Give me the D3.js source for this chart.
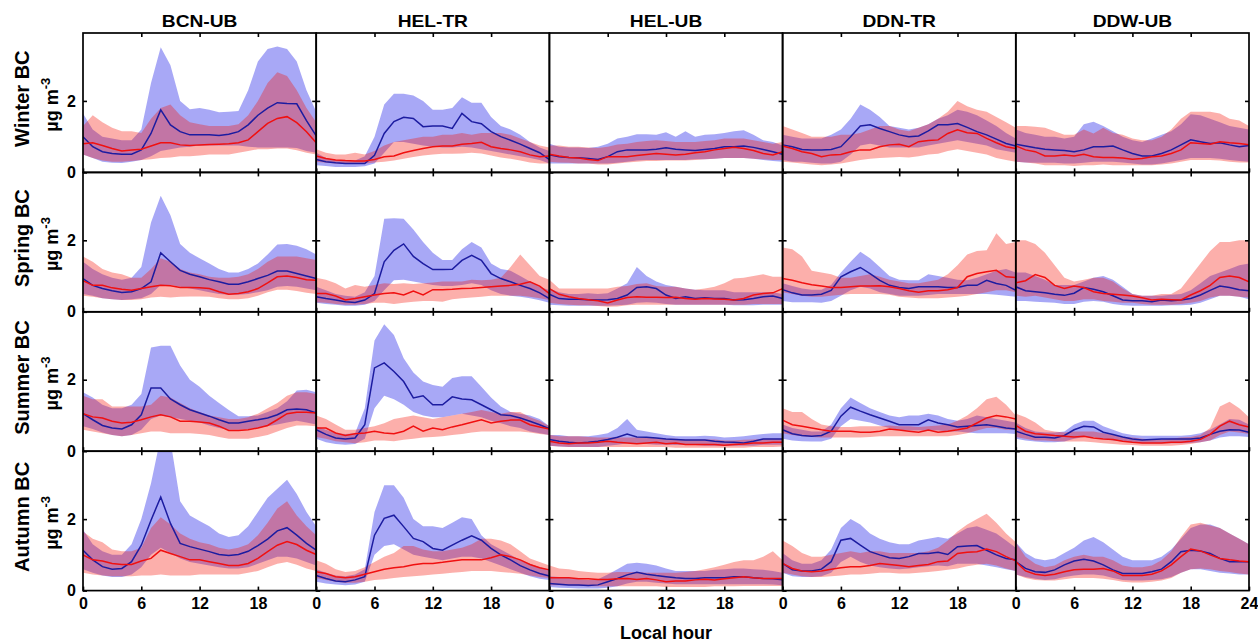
<!DOCTYPE html>
<html>
<head>
<meta charset="utf-8" />
<title>BC diurnal cycles</title>
<style>
  body { margin: 0; background: #fff; }
  svg text { font-family: Arial, "Liberation Sans", sans-serif; font-weight: bold; fill: #000; }
</style>
</head>
<body>
<script src="https://cdn.jsdelivr.net/npm/d3@7"></script>
<script>
// categories
var sites = ["BCN-UB", "HEL-TR", "HEL-UB", "DDN-TR", "DDW-UB"];
var seasons = ["Winter", "Spring", "Summer", "Autumn"];
var hours = d3.range(0, 25);
var xTickLabels = [0, 6, 12, 18];
var yTickLabels = [0, 2];

// all arrays below are [season][site][hour 0..24], ug m-3
// blue series: mean, lower and upper band
var blueMean = [
  [[1.0,0.72,0.58,0.53,0.51,0.51,0.63,1.09,1.75,1.33,1.14,1.05,1.05,1.05,1.03,1.07,1.14,1.33,1.6,1.8,1.95,1.93,1.92,1.45,1.02],
   [0.36,0.3,0.27,0.25,0.25,0.25,0.48,1.09,1.42,1.54,1.51,1.28,1.3,1.3,1.23,1.65,1.42,1.36,1.14,1.0,0.9,0.79,0.67,0.55,0.36],
   [0.49,0.44,0.42,0.41,0.39,0.36,0.44,0.58,0.63,0.63,0.63,0.65,0.69,0.65,0.63,0.61,0.64,0.67,0.72,0.72,0.74,0.7,0.64,0.58,0.51],
   [0.77,0.72,0.64,0.63,0.63,0.64,0.72,1.0,1.3,1.33,1.23,1.14,1.05,1.0,1.02,1.16,1.33,1.33,1.37,1.26,1.14,1.05,0.93,0.81,0.74],
   [0.79,0.74,0.69,0.65,0.63,0.61,0.58,0.63,0.72,0.72,0.74,0.63,0.53,0.46,0.46,0.53,0.63,0.77,0.91,0.86,0.81,0.83,0.77,0.72,0.75]],
  [[0.93,0.74,0.65,0.59,0.54,0.56,0.65,0.84,1.65,1.4,1.16,1.05,0.98,0.9,0.84,0.77,0.77,0.84,0.93,1.02,1.14,1.14,1.07,1.0,0.93],
   [0.42,0.37,0.33,0.28,0.26,0.33,0.51,1.4,1.72,1.9,1.55,1.35,1.18,1.18,1.19,1.44,1.58,1.44,1.07,0.93,0.84,0.74,0.65,0.53,0.37],
   [0.49,0.37,0.35,0.35,0.34,0.33,0.34,0.37,0.47,0.68,0.7,0.65,0.47,0.37,0.42,0.37,0.39,0.37,0.37,0.33,0.34,0.37,0.42,0.44,0.37],
   [0.62,0.53,0.47,0.47,0.49,0.6,0.98,1.12,1.24,1.07,0.88,0.74,0.68,0.65,0.7,0.7,0.7,0.68,0.68,0.74,0.74,0.88,0.79,0.74,0.6],
   [0.7,0.59,0.56,0.53,0.49,0.46,0.52,0.68,0.63,0.56,0.45,0.33,0.31,0.31,0.28,0.33,0.31,0.33,0.37,0.47,0.6,0.72,0.68,0.62,0.59]],
  [[1.05,0.88,0.72,0.65,0.62,0.74,1.02,1.77,1.77,1.46,1.3,1.16,1.07,0.98,0.88,0.79,0.79,0.84,0.88,0.93,1.02,1.16,1.18,1.16,1.07],
   [0.6,0.47,0.37,0.34,0.37,0.74,2.33,2.47,2.23,1.95,1.49,1.55,1.3,1.3,1.52,1.46,1.44,1.3,1.16,1.02,1.0,0.93,0.84,0.74,0.63],
   [0.33,0.28,0.25,0.23,0.25,0.28,0.33,0.39,0.48,0.4,0.39,0.37,0.34,0.33,0.31,0.31,0.31,0.28,0.26,0.25,0.23,0.28,0.34,0.34,0.34],
   [0.6,0.49,0.44,0.42,0.44,0.56,0.98,1.23,1.12,1.02,0.93,0.84,0.74,0.74,0.74,0.88,0.79,0.74,0.68,0.7,0.72,0.74,0.7,0.65,0.62],
   [0.56,0.47,0.39,0.39,0.37,0.44,0.6,0.7,0.68,0.53,0.47,0.4,0.34,0.31,0.33,0.34,0.34,0.34,0.34,0.37,0.47,0.56,0.6,0.59,0.53]],
  [[1.13,0.86,0.67,0.6,0.62,0.81,1.27,1.97,2.62,1.88,1.32,1.23,1.16,1.09,1.01,0.98,1.01,1.1,1.26,1.44,1.67,1.76,1.55,1.32,1.13],
   [0.42,0.34,0.27,0.25,0.3,0.39,1.55,2.02,2.11,1.79,1.46,1.37,1.18,1.13,1.27,1.41,1.53,1.41,1.18,1.0,0.86,0.7,0.58,0.48,0.41],
   [0.2,0.18,0.16,0.16,0.14,0.16,0.25,0.34,0.44,0.51,0.46,0.42,0.39,0.36,0.34,0.34,0.36,0.36,0.36,0.39,0.39,0.36,0.34,0.33,0.3],
   [0.76,0.58,0.55,0.55,0.6,0.81,1.41,1.46,1.27,1.09,1.0,0.92,0.9,0.95,1.04,1.04,1.07,1.01,1.23,1.25,1.26,1.13,1.0,0.9,0.86],
   [0.81,0.62,0.53,0.51,0.58,0.72,0.83,0.88,0.83,0.72,0.58,0.48,0.48,0.48,0.53,0.6,0.81,1.09,1.13,1.11,1.04,0.9,0.81,0.81,0.81]]
];
var blueLow = [
  [[0.5,0.4,0.3,0.27,0.26,0.3,0.35,0.45,0.6,0.65,0.7,0.72,0.75,0.75,0.75,0.75,0.75,0.72,0.7,0.7,0.7,0.7,0.68,0.6,0.55],
   [0.2,0.18,0.15,0.15,0.15,0.17,0.25,0.55,0.85,0.85,0.8,0.75,0.72,0.7,0.7,0.72,0.7,0.65,0.6,0.55,0.5,0.45,0.4,0.35,0.25],
   [0.25,0.25,0.25,0.25,0.25,0.25,0.25,0.27,0.3,0.33,0.35,0.35,0.35,0.35,0.35,0.37,0.37,0.38,0.4,0.4,0.4,0.38,0.35,0.32,0.3],
   [0.35,0.3,0.3,0.27,0.25,0.25,0.3,0.5,0.75,0.8,0.75,0.7,0.7,0.7,0.7,0.75,0.8,0.85,0.9,0.85,0.8,0.75,0.65,0.6,0.55],
   [0.3,0.28,0.27,0.27,0.27,0.25,0.25,0.27,0.3,0.3,0.3,0.28,0.25,0.22,0.22,0.25,0.3,0.35,0.4,0.4,0.4,0.38,0.35,0.32,0.3]],
  [[0.5,0.45,0.38,0.35,0.33,0.35,0.38,0.5,0.75,0.75,0.7,0.65,0.6,0.55,0.5,0.48,0.48,0.5,0.55,0.6,0.7,0.72,0.7,0.65,0.6],
   [0.25,0.22,0.2,0.17,0.17,0.2,0.3,0.6,0.88,0.9,0.85,0.8,0.75,0.72,0.72,0.75,0.8,0.75,0.6,0.5,0.45,0.42,0.38,0.32,0.25],
   [0.2,0.18,0.17,0.17,0.17,0.17,0.17,0.18,0.2,0.25,0.27,0.25,0.22,0.2,0.2,0.2,0.2,0.2,0.2,0.18,0.18,0.18,0.2,0.2,0.2],
   [0.3,0.27,0.27,0.27,0.25,0.3,0.45,0.6,0.7,0.65,0.55,0.5,0.45,0.45,0.45,0.47,0.5,0.5,0.5,0.5,0.5,0.5,0.48,0.45,0.42],
   [0.3,0.3,0.28,0.27,0.25,0.22,0.22,0.28,0.3,0.28,0.22,0.18,0.17,0.17,0.17,0.17,0.18,0.18,0.2,0.25,0.35,0.45,0.45,0.42,0.35]],
  [[0.7,0.62,0.52,0.45,0.42,0.45,0.6,0.9,1.0,0.95,0.9,0.85,0.8,0.72,0.65,0.6,0.6,0.62,0.65,0.7,0.75,0.8,0.85,0.8,0.75],
   [0.35,0.25,0.2,0.18,0.2,0.35,1.2,1.55,1.45,1.3,1.1,1.0,0.95,0.95,1.0,1.05,1.0,0.95,0.85,0.78,0.7,0.65,0.55,0.5,0.45],
   [0.15,0.13,0.12,0.12,0.12,0.12,0.15,0.18,0.22,0.22,0.2,0.18,0.18,0.17,0.17,0.17,0.15,0.15,0.15,0.15,0.15,0.15,0.18,0.18,0.18],
   [0.35,0.3,0.28,0.27,0.27,0.35,0.7,0.9,0.85,0.8,0.72,0.65,0.6,0.58,0.58,0.58,0.58,0.55,0.55,0.52,0.5,0.5,0.5,0.5,0.48],
   [0.35,0.3,0.27,0.25,0.25,0.27,0.35,0.4,0.4,0.35,0.3,0.27,0.25,0.22,0.22,0.22,0.22,0.22,0.23,0.25,0.3,0.38,0.42,0.42,0.4]],
  [[0.6,0.5,0.42,0.38,0.38,0.45,0.65,1.0,1.2,1.05,0.9,0.8,0.75,0.7,0.65,0.62,0.62,0.65,0.75,0.85,0.95,0.95,0.9,0.8,0.7],
   [0.25,0.2,0.17,0.15,0.17,0.25,1.0,1.25,1.3,1.15,1.0,0.95,0.9,0.85,0.9,0.95,0.95,0.9,0.8,0.7,0.6,0.5,0.4,0.33,0.3],
   [0.1,0.08,0.07,0.06,0.06,0.06,0.08,0.12,0.2,0.25,0.25,0.22,0.2,0.18,0.18,0.18,0.18,0.18,0.18,0.18,0.18,0.18,0.18,0.17,0.15],
   [0.5,0.4,0.38,0.38,0.4,0.5,0.8,0.95,0.8,0.7,0.65,0.62,0.6,0.62,0.65,0.68,0.7,0.68,0.75,0.75,0.75,0.7,0.65,0.6,0.55],
   [0.45,0.38,0.33,0.3,0.32,0.38,0.42,0.45,0.45,0.42,0.35,0.3,0.28,0.28,0.3,0.32,0.38,0.5,0.6,0.6,0.55,0.5,0.48,0.45,0.45]]
];
var blueHigh = [
  [[1.65,1.2,1.0,0.95,0.9,0.9,1.2,2.5,3.5,3.0,2.0,1.77,1.8,1.75,1.68,1.7,1.72,2.3,3.1,3.45,3.52,3.45,3.1,2.3,1.7],
   [0.55,0.4,0.35,0.33,0.33,0.45,1.0,1.9,2.2,2.2,2.15,2.0,1.75,1.75,1.8,2.1,1.95,1.95,1.55,1.3,1.2,1.05,0.85,0.7,0.6],
   [0.8,0.72,0.7,0.7,0.68,0.72,0.8,0.95,1.0,1.07,1.07,1.05,1.12,1.0,1.15,1.0,1.05,1.07,1.1,1.15,1.18,1.05,0.9,0.85,0.75],
   [1.05,1.0,0.95,0.95,0.95,1.05,1.2,1.5,1.9,1.75,1.55,1.3,1.25,1.2,1.25,1.35,1.5,1.6,1.75,1.7,1.6,1.45,1.3,1.1,0.95],
   [1.2,1.1,1.05,1.0,1.0,0.95,1.0,1.35,1.42,1.3,1.15,1.0,0.9,0.85,0.95,1.05,1.15,1.35,1.63,1.6,1.5,1.4,1.3,1.25,1.2]],
  [[1.4,1.2,1.05,0.95,0.9,0.95,1.25,2.5,3.25,2.7,1.9,1.65,1.5,1.35,1.2,1.1,1.1,1.2,1.35,1.6,1.88,1.9,1.85,1.75,1.6],
   [0.7,0.6,0.5,0.45,0.42,0.55,1.0,2.6,2.62,2.6,2.3,1.95,1.65,1.45,1.45,1.75,1.95,1.8,1.35,1.2,1.15,1.0,0.85,0.7,0.6],
   [0.65,0.55,0.5,0.5,0.52,0.5,0.52,0.65,0.8,1.25,1.0,0.85,0.75,0.7,0.65,0.62,0.6,0.6,0.6,0.55,0.55,0.55,0.55,0.55,0.5],
   [0.8,0.72,0.65,0.62,0.62,0.75,1.1,1.4,1.68,1.5,1.25,1.0,0.9,0.88,0.88,1.05,1.0,0.95,0.9,0.88,0.95,1.05,1.15,1.2,1.1],
   [1.1,1.1,1.0,0.9,0.75,0.75,0.75,0.85,0.95,1.0,0.9,0.7,0.5,0.45,0.45,0.45,0.48,0.5,0.6,0.8,1.0,1.1,1.2,1.3,1.35]],
  [[1.65,1.5,1.3,1.2,1.2,1.3,1.6,2.9,2.95,2.95,2.4,2.0,1.8,1.55,1.35,1.15,0.98,0.98,1.0,1.1,1.2,1.4,1.7,1.72,1.65],
   [0.7,0.6,0.5,0.48,0.5,1.2,3.1,3.55,3.25,2.6,2.2,1.95,1.85,1.8,2.05,2.1,2.1,1.8,1.5,1.25,1.1,1.05,1.0,0.9,0.7],
   [0.45,0.45,0.42,0.42,0.42,0.45,0.5,0.65,0.9,0.6,0.55,0.5,0.45,0.42,0.42,0.42,0.43,0.42,0.38,0.4,0.42,0.45,0.48,0.5,0.5],
   [0.75,0.65,0.6,0.55,0.55,0.75,1.2,1.5,1.35,1.2,1.1,1.0,0.95,1.0,1.0,1.05,1.0,0.9,0.85,0.9,1.0,0.95,0.9,0.85,0.8],
   [0.8,0.65,0.55,0.52,0.52,0.55,0.75,0.85,0.85,0.7,0.6,0.5,0.45,0.43,0.43,0.43,0.43,0.43,0.45,0.5,0.6,0.75,0.9,0.88,0.75]],
  [[1.7,1.3,1.1,1.0,1.0,1.3,2.0,3.0,4.3,4.2,2.5,2.1,1.95,1.8,1.6,1.5,1.55,1.8,2.2,2.6,2.85,3.1,2.7,2.2,1.8],
   [0.6,0.5,0.42,0.4,0.45,0.6,2.2,2.95,2.95,2.6,2.0,1.8,1.8,1.75,1.9,2.05,2.0,1.55,1.3,1.15,1.0,0.85,0.75,0.65,0.58],
   [0.4,0.38,0.35,0.32,0.3,0.32,0.45,0.6,0.75,0.78,0.75,0.7,0.62,0.55,0.55,0.55,0.55,0.58,0.6,0.62,0.62,0.6,0.58,0.55,0.5],
   [1.05,0.85,0.75,0.75,0.85,1.15,1.75,2.0,1.85,1.6,1.45,1.35,1.3,1.3,1.4,1.45,1.5,1.45,1.6,1.75,1.8,1.7,1.6,1.4,1.2],
   [1.35,1.05,0.9,0.85,0.9,1.05,1.2,1.4,1.5,1.35,1.15,0.95,0.85,0.85,0.85,0.95,1.15,1.45,1.75,1.85,1.85,1.75,1.6,1.45,1.3]]
];

// red series: mean, lower and upper band
var redMean = [
  [[0.8,0.83,0.75,0.67,0.6,0.63,0.65,0.74,0.83,0.83,0.77,0.75,0.77,0.78,0.79,0.8,0.83,0.91,1.14,1.37,1.51,1.56,1.39,1.14,0.83],
   [0.46,0.39,0.35,0.33,0.32,0.32,0.36,0.44,0.46,0.55,0.61,0.67,0.72,0.74,0.74,0.79,0.81,0.84,0.72,0.67,0.63,0.58,0.49,0.44,0.46],
   [0.51,0.46,0.42,0.4,0.36,0.33,0.44,0.44,0.44,0.47,0.5,0.53,0.51,0.49,0.51,0.55,0.58,0.63,0.67,0.7,0.67,0.61,0.53,0.49,0.58],
   [0.74,0.67,0.58,0.53,0.44,0.49,0.5,0.58,0.63,0.63,0.72,0.77,0.79,0.72,0.86,0.89,0.91,1.09,1.19,1.11,1.09,0.95,0.83,0.72,0.67],
   [0.74,0.63,0.58,0.46,0.46,0.49,0.46,0.51,0.44,0.42,0.42,0.4,0.37,0.39,0.44,0.46,0.53,0.63,0.83,0.81,0.79,0.86,0.83,0.81,0.77]],
  [[0.87,0.74,0.74,0.67,0.63,0.6,0.65,0.7,0.74,0.73,0.68,0.68,0.67,0.65,0.56,0.49,0.51,0.56,0.65,0.81,0.98,1.0,0.96,0.9,0.88],
   [0.51,0.51,0.44,0.33,0.37,0.42,0.47,0.51,0.53,0.47,0.58,0.47,0.62,0.62,0.63,0.65,0.66,0.68,0.7,0.72,0.74,0.77,0.84,0.72,0.51],
   [0.65,0.49,0.42,0.37,0.34,0.31,0.25,0.33,0.4,0.42,0.41,0.41,0.4,0.41,0.37,0.35,0.37,0.36,0.35,0.33,0.37,0.47,0.51,0.53,0.65],
   [0.93,0.88,0.81,0.76,0.72,0.68,0.68,0.7,0.72,0.72,0.73,0.7,0.65,0.59,0.55,0.59,0.59,0.62,0.68,0.98,1.07,1.12,1.16,0.98,0.96],
   [0.81,0.87,1.04,0.96,0.74,0.65,0.72,0.68,0.56,0.51,0.49,0.47,0.44,0.39,0.33,0.35,0.34,0.33,0.47,0.59,0.74,0.96,1.0,0.96,0.84]],
  [[1.05,0.96,0.93,0.84,0.79,0.81,0.88,0.96,1.02,0.96,0.84,0.84,0.82,0.79,0.7,0.58,0.58,0.6,0.65,0.72,0.88,1.05,1.09,1.09,1.07],
   [0.65,0.65,0.51,0.44,0.49,0.51,0.56,0.51,0.49,0.56,0.7,0.56,0.65,0.6,0.68,0.74,0.81,0.88,0.79,0.84,0.87,0.87,0.74,0.68,0.62],
   [0.28,0.23,0.21,0.23,0.23,0.25,0.28,0.25,0.23,0.21,0.23,0.25,0.21,0.23,0.19,0.19,0.19,0.19,0.17,0.19,0.2,0.23,0.23,0.25,0.25],
   [0.87,0.74,0.7,0.65,0.6,0.56,0.56,0.56,0.53,0.53,0.56,0.62,0.59,0.56,0.53,0.59,0.53,0.56,0.6,0.65,0.79,0.93,1.0,0.96,0.9],
   [0.72,0.56,0.49,0.47,0.44,0.42,0.4,0.42,0.37,0.34,0.33,0.28,0.25,0.23,0.23,0.23,0.25,0.25,0.28,0.33,0.47,0.7,0.84,0.74,0.68]],
  [[1.0,0.86,0.83,0.76,0.73,0.73,0.83,0.9,1.13,1.04,0.95,0.86,0.86,0.81,0.76,0.7,0.7,0.76,0.9,1.09,1.27,1.37,1.29,1.13,1.01],
   [0.53,0.48,0.39,0.36,0.39,0.46,0.53,0.6,0.64,0.67,0.72,0.76,0.76,0.79,0.83,0.86,0.86,0.86,0.92,1.0,0.95,0.86,0.73,0.64,0.58],
   [0.36,0.36,0.36,0.33,0.33,0.31,0.31,0.33,0.34,0.31,0.34,0.3,0.25,0.27,0.27,0.3,0.32,0.3,0.33,0.36,0.39,0.36,0.34,0.34,0.34],
   [0.76,0.62,0.55,0.53,0.55,0.6,0.64,0.67,0.67,0.7,0.76,0.73,0.7,0.67,0.7,0.73,0.81,0.83,1.04,1.07,1.09,1.16,1.09,0.95,0.83],
   [0.81,0.55,0.46,0.42,0.46,0.53,0.58,0.6,0.6,0.62,0.55,0.42,0.42,0.42,0.46,0.55,0.72,0.95,1.16,1.11,1.0,0.9,0.86,0.83,0.81]]
];
var redLow = [
  [[0.5,0.4,0.33,0.3,0.3,0.32,0.35,0.37,0.4,0.42,0.45,0.45,0.47,0.5,0.5,0.5,0.55,0.6,0.65,0.65,0.67,0.67,0.62,0.55,0.5],
   [0.3,0.27,0.25,0.24,0.24,0.25,0.28,0.3,0.33,0.38,0.43,0.47,0.5,0.52,0.52,0.53,0.55,0.53,0.47,0.42,0.38,0.33,0.28,0.25,0.25],
   [0.3,0.28,0.27,0.25,0.25,0.22,0.22,0.25,0.28,0.3,0.32,0.32,0.33,0.33,0.33,0.35,0.37,0.38,0.4,0.4,0.4,0.38,0.37,0.35,0.35],
   [0.3,0.28,0.25,0.22,0.2,0.22,0.25,0.3,0.35,0.38,0.4,0.42,0.43,0.42,0.45,0.5,0.52,0.6,0.65,0.6,0.55,0.5,0.4,0.35,0.3],
   [0.3,0.28,0.25,0.2,0.2,0.2,0.18,0.2,0.2,0.22,0.2,0.2,0.2,0.2,0.2,0.22,0.25,0.3,0.35,0.35,0.35,0.33,0.3,0.28,0.28]],
  [[0.45,0.42,0.38,0.35,0.33,0.33,0.35,0.4,0.42,0.4,0.42,0.43,0.43,0.42,0.38,0.35,0.35,0.38,0.45,0.55,0.62,0.62,0.58,0.53,0.5],
   [0.27,0.25,0.22,0.2,0.2,0.22,0.25,0.25,0.22,0.25,0.28,0.3,0.3,0.28,0.35,0.38,0.4,0.42,0.45,0.45,0.45,0.45,0.42,0.38,0.33],
   [0.25,0.22,0.2,0.18,0.18,0.16,0.14,0.15,0.18,0.2,0.2,0.2,0.2,0.2,0.2,0.2,0.2,0.2,0.2,0.2,0.2,0.22,0.22,0.22,0.22],
   [0.55,0.5,0.45,0.42,0.42,0.45,0.48,0.5,0.5,0.5,0.5,0.48,0.42,0.4,0.38,0.38,0.38,0.4,0.42,0.45,0.5,0.55,0.6,0.6,0.55],
   [0.45,0.42,0.45,0.4,0.35,0.3,0.3,0.35,0.35,0.3,0.28,0.25,0.25,0.22,0.2,0.2,0.2,0.22,0.25,0.3,0.4,0.45,0.45,0.42,0.4]],
  [[0.6,0.55,0.5,0.45,0.42,0.45,0.5,0.55,0.55,0.5,0.5,0.5,0.48,0.45,0.4,0.35,0.35,0.35,0.4,0.45,0.55,0.65,0.72,0.72,0.7],
   [0.4,0.35,0.28,0.25,0.22,0.25,0.3,0.3,0.28,0.32,0.35,0.38,0.4,0.42,0.45,0.48,0.52,0.55,0.55,0.55,0.55,0.55,0.52,0.48,0.45],
   [0.15,0.13,0.12,0.12,0.12,0.12,0.12,0.12,0.12,0.12,0.12,0.12,0.12,0.1,0.1,0.1,0.1,0.1,0.1,0.1,0.1,0.12,0.12,0.12,0.13],
   [0.5,0.45,0.42,0.4,0.38,0.38,0.38,0.38,0.38,0.4,0.42,0.42,0.42,0.42,0.42,0.42,0.42,0.42,0.45,0.5,0.58,0.65,0.65,0.6,0.6],
   [0.4,0.35,0.3,0.3,0.28,0.27,0.27,0.27,0.25,0.22,0.2,0.18,0.17,0.15,0.15,0.15,0.15,0.17,0.2,0.25,0.3,0.45,0.55,0.52,0.48]],
  [[0.5,0.45,0.42,0.4,0.4,0.4,0.42,0.42,0.45,0.42,0.42,0.42,0.45,0.45,0.45,0.45,0.45,0.5,0.55,0.65,0.75,0.8,0.72,0.62,0.55],
   [0.35,0.3,0.25,0.22,0.22,0.25,0.3,0.32,0.35,0.38,0.4,0.42,0.45,0.47,0.5,0.52,0.55,0.55,0.55,0.52,0.5,0.47,0.42,0.38,0.35],
   [0.15,0.15,0.15,0.13,0.12,0.12,0.12,0.12,0.12,0.12,0.12,0.12,0.1,0.1,0.1,0.1,0.1,0.12,0.12,0.12,0.13,0.13,0.13,0.13,0.13],
   [0.5,0.45,0.4,0.38,0.38,0.4,0.42,0.45,0.45,0.47,0.5,0.5,0.48,0.48,0.5,0.52,0.55,0.58,0.62,0.68,0.72,0.75,0.7,0.62,0.55],
   [0.45,0.35,0.3,0.28,0.28,0.32,0.35,0.35,0.35,0.33,0.3,0.25,0.23,0.23,0.25,0.28,0.35,0.5,0.6,0.62,0.6,0.55,0.52,0.48,0.45]]
];
var redHigh = [
  [[1.3,1.6,1.4,1.25,1.15,1.15,1.1,1.5,1.8,1.9,1.6,1.4,1.35,1.3,1.3,1.3,1.35,1.6,2.0,2.5,2.8,2.7,2.3,1.8,1.4],
   [0.65,0.55,0.5,0.5,0.55,0.5,0.6,0.75,0.85,0.9,0.95,1.0,1.0,1.05,1.05,1.1,1.05,1.1,1.1,1.1,1.05,0.95,0.85,0.75,0.7],
   [0.75,0.75,0.72,0.72,0.7,0.68,0.72,0.78,0.8,0.85,0.88,0.9,0.88,0.85,0.85,0.85,0.88,0.9,0.95,0.95,0.95,0.9,0.85,0.8,0.85],
   [1.3,1.2,1.1,1.0,1.0,1.0,1.05,1.05,1.1,1.2,1.3,1.3,1.2,1.15,1.25,1.35,1.5,1.7,2.0,1.85,1.75,1.7,1.55,1.4,1.25],
   [1.3,1.3,1.28,1.25,1.15,1.05,1.05,1.2,1.09,1.25,1.1,1.05,0.95,0.9,0.9,1.0,1.2,1.5,1.7,1.7,1.7,1.65,1.5,1.45,1.3]],
  [[1.55,1.4,1.2,1.1,1.05,0.95,0.95,1.2,1.5,1.4,1.2,1.1,1.05,0.98,0.95,0.95,0.98,1.05,1.2,1.4,1.55,1.55,1.55,1.5,1.45],
   [0.95,0.9,0.8,0.65,0.75,0.7,0.75,0.8,0.78,0.8,0.78,0.8,0.82,0.85,0.85,0.85,0.9,0.88,0.9,0.95,1.25,1.6,1.3,1.0,0.9],
   [0.9,0.65,0.65,0.65,0.65,0.65,0.65,0.7,0.72,0.78,0.8,0.72,0.7,0.7,0.65,0.62,0.65,0.7,0.8,0.93,0.95,1.0,1.05,0.98,0.98],
   [1.8,1.75,1.55,1.15,1.1,1.05,0.95,0.95,1.0,1.05,0.98,0.9,0.85,0.8,0.8,0.85,0.9,1.05,1.3,1.6,1.7,1.72,2.2,1.9,1.95],
   [2.0,2.0,1.9,1.65,1.3,0.95,0.85,0.9,0.95,0.95,0.85,0.65,0.5,0.45,0.45,0.5,0.5,0.65,1.0,1.35,1.7,1.95,1.95,2.0,2.0]],
  [[1.55,1.45,1.45,1.25,1.25,1.25,1.25,1.3,1.55,1.5,1.35,1.2,1.1,1.0,0.95,0.9,0.9,0.95,1.05,1.2,1.35,1.55,1.65,1.65,1.6],
   [1.0,0.9,0.75,0.6,0.6,0.65,0.7,0.78,0.9,0.95,1.0,0.95,0.9,0.95,1.0,1.05,1.1,1.15,1.1,1.05,1.1,1.1,0.95,0.85,0.7],
   [0.45,0.42,0.42,0.42,0.4,0.38,0.38,0.38,0.38,0.38,0.38,0.36,0.35,0.35,0.33,0.33,0.33,0.33,0.3,0.3,0.32,0.33,0.35,0.35,0.35],
   [1.2,1.1,1.1,0.9,0.75,0.7,0.68,0.68,0.7,0.7,0.7,0.72,0.7,0.7,0.68,0.7,0.72,0.75,0.85,1.0,1.2,1.45,1.52,1.3,1.0],
   [1.05,0.95,0.8,0.6,0.55,0.52,0.55,0.55,0.55,0.5,0.45,0.4,0.38,0.35,0.33,0.33,0.35,0.38,0.4,0.45,0.65,1.25,1.38,1.2,0.95]],
  [[1.65,1.45,1.35,1.15,1.1,1.1,1.2,1.75,2.05,1.85,1.6,1.45,1.35,1.3,1.2,1.15,1.2,1.3,1.55,1.9,2.3,2.5,2.1,1.8,1.55],
   [0.85,0.75,0.6,0.52,0.55,0.65,0.8,0.95,1.05,1.25,1.25,1.15,1.1,1.1,1.15,1.2,1.3,1.45,1.45,1.4,1.3,1.1,0.9,0.8,0.7],
   [0.7,0.62,0.6,0.55,0.52,0.5,0.5,0.52,0.52,0.52,0.5,0.5,0.5,0.5,0.52,0.55,0.6,0.65,0.72,0.8,0.85,0.85,0.95,1.1,0.85],
   [1.4,1.25,1.05,0.95,0.95,1.0,1.05,1.1,1.05,1.1,1.1,1.05,1.05,1.05,1.05,1.1,1.2,1.4,1.65,1.85,2.0,2.15,1.9,1.6,1.35],
   [1.35,0.95,0.75,0.65,0.7,0.85,0.95,1.0,0.95,0.95,0.85,0.7,0.65,0.65,0.7,0.85,1.1,1.5,1.85,1.9,1.82,1.75,1.6,1.45,1.3]]
];

// layout
var W = 1258, H = 643;
var gridLeft = 83, gridTop = 33;
var pw = 233.2, ph = 139.4;

var blueFill = "rgb(0,0,230)", redFill = "rgb(245,20,10)";
var blueLine = "#1c1ca0", redLine = "#f01010";
var textFont = "Arial, 'Liberation Sans', sans-serif";

var svg = d3.select("body").append("svg")
    .attr("width", W)
    .attr("height", H);

var x = d3.scaleLinear().domain([0, 24]).range([0, pw]);
var y = d3.scaleLinear().domain([0, 3.9]).range([ph, 0]);

function band(lo, hi) {
    return d3.area()
        .x(function(d, i) { return x(hours[i]); })
        .y0(function(d, i) { return y(lo[i]); })
        .y1(function(d, i) { return y(hi[i]); })(hours);
}

function line(vals) {
    return d3.line()
        .x(function(d, i) { return x(hours[i]); })
        .y(function(d, i) { return y(vals[i]); })(hours);
}

seasons.forEach(function(season, r) {
    sites.forEach(function(site, c) {
        var g = svg.append("g")
            .attr("transform", "translate(" + (gridLeft + c * pw) + "," + (gridTop + r * ph) + ")");
        var clipId = "clip-" + r + "-" + c;
        g.append("clipPath").attr("id", clipId)
            .append("rect").attr("width", pw).attr("height", ph);

        var plot = g.append("g").attr("clip-path", "url(#" + clipId + ")");

        // shaded ranges
        plot.append("path")
            .attr("d", band(blueLow[r][c], blueHigh[r][c]))
            .attr("fill", blueFill)
            .attr("fill-opacity", 0.34);
        plot.append("path")
            .attr("d", band(redLow[r][c], redHigh[r][c]))
            .attr("fill", redFill)
            .attr("fill-opacity", 0.34);

        // mean lines
        plot.append("path")
            .attr("d", line(blueMean[r][c]))
            .attr("fill", "none")
            .attr("stroke", blueLine)
            .attr("stroke-width", 1.5);
        plot.append("path")
            .attr("d", line(redMean[r][c]))
            .attr("fill", "none")
            .attr("stroke", redLine)
            .attr("stroke-width", 1.5);

        // axes, ticks point inward
        var isBottom = r === seasons.length - 1;
        var bottomTicks = c === sites.length - 1 ? xTickLabels.concat([24]) : xTickLabels;
        var xb = g.append("g")
            .attr("transform", "translate(0," + ph + ")")
            .call(d3.axisBottom(x).tickValues(bottomTicks).tickSize(-4).tickPadding(7)
                .tickFormat(isBottom ? d3.format("d") : function() { return ""; }));
        var xt = g.append("g")
            .call(d3.axisTop(x).tickValues([6, 12, 18]).tickSize(-4).tickFormat(""));
        var yl = g.append("g")
            .call(d3.axisLeft(y).tickValues(yTickLabels).tickSize(-4).tickPadding(7)
                .tickFormat(c === 0 ? d3.format("d") : function() { return ""; }));
        var yr = g.append("g")
            .attr("transform", "translate(" + pw + ",0)")
            .call(d3.axisRight(y).tickValues([2]).tickSize(-4).tickFormat(""));

        [xb, xt, yl, yr].forEach(function(a) {
            a.select(".domain").remove();
            a.selectAll(".tick line").attr("stroke", "#000").attr("stroke-width", 1.6);
            a.selectAll(".tick text")
                .attr("font-size", 16)
                .style("font-family", textFont)
                .style("font-weight", "bold");
        });

        g.append("rect")
            .attr("width", pw)
            .attr("height", ph)
            .attr("fill", "none")
            .attr("stroke", "#000")
            .attr("stroke-width", 1.7);
    });

    // row label
    var cy = gridTop + r * ph + ph / 2;
    svg.append("text")
        .attr("transform", "translate(29," + (cy - 4) + ") rotate(-90)")
        .attr("text-anchor", "middle")
        .attr("font-size", 20)
        .text(season + " BC");
    var unit = svg.append("text")
        .attr("transform", "translate(58," + (cy + 2) + ") rotate(-90)")
        .attr("text-anchor", "middle")
        .attr("font-size", 18);
    unit.append("tspan").text("\u00b5g m");
    unit.append("tspan").attr("dy", -8).attr("font-size", 13).text("-3");
});

// column titles, slightly wide like the original figure
sites.forEach(function(site, c) {
    svg.append("text")
        .attr("transform", "translate(" + (gridLeft + c * pw + pw / 2) + ",27) scale(1.2,1)")
        .attr("text-anchor", "middle")
        .attr("font-size", 16)
        .text(site);
});

svg.append("text")
    .attr("x", gridLeft + 2.5 * pw)
    .attr("y", 639)
    .attr("text-anchor", "middle")
    .attr("font-size", 18)
    .text("Local hour");
</script>
</body>
</html>
